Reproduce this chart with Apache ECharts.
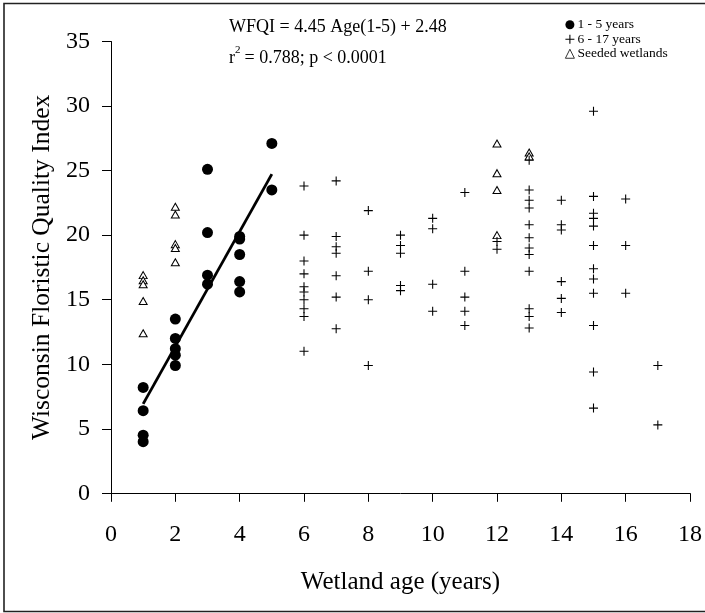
<!DOCTYPE html>
<html>
<head>
<meta charset="utf-8">
<script src="https://cdn.jsdelivr.net/npm/echarts@6/dist/echarts.min.js"></script>
<style>
html,body{margin:0;padding:0;background:#fff;}
#chart{width:705px;height:613px;}
</style>
</head>
<body>
<div id="chart"></div>
<script>
// ---- data ----
var youngAge  = [1,1,1,1, 2,2,2,2,2, 3,3,3,3, 4,4,4,4,4, 5,5];
var youngWFQI = [8.2,6.4,4.5,4.0, 13.5,12.0,11.2,10.7,9.9, 25.1,20.2,16.9,16.2, 19.9,19.7,18.5,16.4,15.6, 27.1,23.5];

var oldAge  = [6,6,6,6,6,6,6,6,6,6,
               7,7,7,7,7,7,7,
               8,8,8,8,
               9,9,9,9,9,
               10,10,10,10,
               11,11,11,11,11,
               12,12,
               13,13,13,13,13,13,13,13,13,13,13,13,
               14,14,14,14,14,14,
               15,15,15,15,15,15,15,15,15,15,15,15,
               16,16,16,
               17,17];
var oldWFQI = [23.8,20.0,18.0,17.0,16.0,15.6,15.0,14.3,13.7,11.0,
               24.2,19.9,19.1,18.6,16.85,15.2,12.75,
               21.9,17.2,15.0,9.9,
               20.0,19.2,18.6,16.1,15.7,
               21.3,20.5,16.2,14.1,
               23.3,17.2,15.2,14.1,13.0,
               19.5,18.9,
               25.8,23.5,22.7,22.1,20.8,19.8,19.0,18.5,17.2,14.3,13.7,12.8,
               22.7,20.8,20.4,16.4,15.1,14.0,
               29.6,23.0,21.7,21.3,20.7,19.2,17.4,16.6,15.5,13.0,9.4,6.6,
               22.8,19.2,15.5,
               9.9,5.3];

var seededAge  = [1,1,1,1,1, 2,2,2,2,2, 12,12,12,12, 13,13];
var seededWFQI = [16.9,16.5,16.2,14.9,12.4, 22.2,21.6,19.3,19.0,17.9, 27.1,24.8,23.5,20.0, 26.4,26.1];

var fitAge  = [1, 5];
var fitWFQI = [6.93, 24.73];

var seriesNames = ['1 - 5 years', '6 - 17 years', 'Seeded wetlands'];
var xTicks = [0, 18, 2];   // min, max, interval
var yTicks = [0, 35, 5];

function zip(a, b){ return a.map(function(v,i){ return [v, b[i]]; }); }

var FONT = 'Liberation Serif';
var plusPath = 'path://M0,4.4H10V5.6H0ZM4.4,0H5.6V10H4.4Z';

var chart = echarts.init(document.getElementById('chart'), null, {renderer:'canvas'});
chart.setOption({
  backgroundColor: '#fff',
  animation: false,
  grid: {left:111, right:12, top:41.5, bottom:119.7, containLabel:false},
  legend: {
    data: [
      {name: seriesNames[0]},
      {name: seriesNames[1]},
      {name: seriesNames[2], itemStyle:{borderWidth:0.8}}
    ],
    orient: 'vertical',
    left: 565, top: 17.5,
    padding: 0,
    itemWidth: 9, itemHeight: 9, itemGap: 0,
    textStyle: {fontFamily: FONT, fontSize: 13.5, color:'#000', lineHeight: 14.5, padding:[0,0,0,-2]},
    selectedMode: false
  },
  xAxis: {
    type: 'value', min: xTicks[0], max: xTicks[1], interval: xTicks[2],
    name: 'Wetland age (years)', nameLocation: 'middle', nameGap: 77,
    nameTextStyle: {fontFamily: FONT, fontSize: 25, color:'#000'},
    axisLine: {show:true, onZero:false, lineStyle:{color:'#000', width:1}},
    axisTick: {show:true, length:8.5, lineStyle:{color:'#000', width:1}},
    axisLabel: {fontFamily: FONT, fontSize: 24, color:'#000', margin: 29},
    splitLine: {show:false}
  },
  yAxis: {
    type: 'value', min: yTicks[0], max: yTicks[1], interval: yTicks[2],
    name: 'Wisconsin Floristic Quality Index', nameLocation: 'middle', nameGap: 48,
    nameTextStyle: {fontFamily: FONT, fontSize: 25.5, color:'#000'},
    axisLine: {show:true, onZero:false, lineStyle:{color:'#000', width:1}},
    axisTick: {show:true, length:9, lineStyle:{color:'#000', width:1}},
    axisLabel: {fontFamily: FONT, fontSize: 24, color:'#000', margin: 21},
    splitLine: {show:false}
  },
  series: [
    {
      name: seriesNames[2], type: 'scatter', symbol: 'triangle', symbolSize: [8,7],
      itemStyle: {color:'#fff', borderColor:'#000', borderWidth:1, opacity:1},
      data: zip(seededAge, seededWFQI), z: 2
    },
    {
      name: seriesNames[1], type: 'scatter', symbol: plusPath, symbolSize: 9,
      itemStyle: {color:'#000', opacity:1},
      data: zip(oldAge, oldWFQI), z: 3
    },
    {
      name: seriesNames[0], type: 'scatter', symbol: 'circle', symbolSize: 11,
      itemStyle: {color:'#000', opacity:1},
      data: zip(youngAge, youngWFQI), z: 3
    },
    {
      name: 'fit', type: 'line', showSymbol: false, symbol: 'none',
      lineStyle: {color:'#000', width: 2.8},
      data: zip(fitAge, fitWFQI), z: 4, silent: true
    }
  ],
  graphic: [
    {type:'rect', shape:{x:4, y:3.5, width:760, height:608}, style:{fill:'none', stroke:'#222', lineWidth:1.6}, silent:true},
    {type:'text', left:229, top:18, style:{text:'WFQI = 4.45 Age(1-5) + 2.48', font:'18px "Liberation Serif"', fill:'#000'}},
    {type:'text', left:229, top:49.5, style:{text:'r', font:'18px "Liberation Serif"', fill:'#000'}},
    {type:'text', left:235, top:45, style:{text:'2', font:'11px "Liberation Serif"', fill:'#000'}},
    {type:'text', left:240, top:49.5, style:{text:' = 0.788; p < 0.0001', font:'18px "Liberation Serif"', fill:'#000'}}
  ]
});
</script>
</body>
</html>
